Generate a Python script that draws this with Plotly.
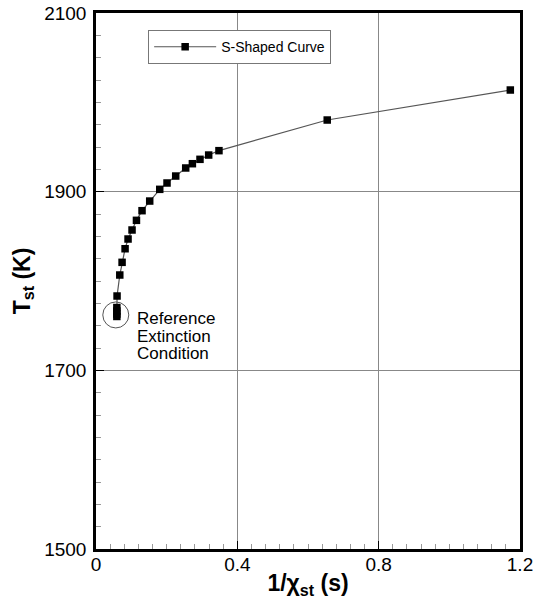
import plotly.graph_objects as go

# Data
inv_chi = [0.0590, 0.0590, 0.0590, 0.0590, 0.0596, 0.0673, 0.0738, 0.0823, 0.0907,
           0.1020, 0.1145, 0.1303, 0.1520, 0.1804, 0.2010, 0.2256, 0.2539,
           0.2728, 0.2943, 0.3189, 0.3480, 0.6544, 1.1726]
t_st = [1760.3, 1763.0, 1766.4, 1770.3, 1783.2, 1806.7, 1820.9, 1836.1, 1847.0,
        1857.1, 1867.9, 1878.7, 1889.5, 1902.6, 1909.7, 1917.5, 1926.5,
        1931.3, 1936.2, 1941.0, 1945.9, 1980.2, 2013.8]

x_ticks = [0, 0.4, 0.8, 1.2]
x_ticklabels = ["0", "0.4", "0.8", "1.2"]
y_ticks = [1500, 1700, 1900, 2100]
y_ticklabels = ["1500", "1700", "1900", "2100"]

extinction_x = 0.056
extinction_y = 1762.0
note_lines = ["Reference", "Extinction", "Condition"]
note_y = [1757.5, 1737.9, 1718.3]
note_x = 0.111

FONT = "Liberation Sans, Arial, Helvetica, sans-serif"

fig = go.Figure()
fig.add_trace(go.Scatter(
    x=inv_chi, y=t_st, mode="lines+markers", name="S-Shaped Curve",
    line=dict(color="#555555", width=1.2),
    marker=dict(symbol="square", size=7.5, color="black"),
))

for txt, yy in zip(note_lines, note_y):
    fig.add_annotation(x=note_x, y=yy, xref="x", yref="y", text=txt,
                       showarrow=False, xanchor="left", yanchor="middle",
                       font=dict(family=FONT, size=17, color="black"))

fig.add_shape(type="circle", xref="x", yref="y",
              xsizemode="pixel", ysizemode="pixel",
              xanchor=extinction_x, yanchor=extinction_y,
              x0=-13, x1=13, y0=-13, y1=13,
              line=dict(color="#555555", width=1))

axis_common = dict(
    showline=True, linecolor="black", linewidth=2.5, mirror=True,
    showgrid=True, gridcolor="#888888", gridwidth=1,
    ticks="inside", ticklen=8, tickcolor="black", tickwidth=1,
    zeroline=False, automargin=False,
    tickfont=dict(family=FONT, size=19, color="black"),
)

fig.update_xaxes(range=[0, 1.2], tickvals=x_ticks, ticktext=x_ticklabels,
                 minor=dict(dtick=0.04, ticks="inside", ticklen=5,
                            tickcolor="#999999", showgrid=False),
                 ticklabelstandoff=-4,
                 title=dict(text="<b>1/χ<sub>st</sub> (s)</b>",
                            font=dict(family=FONT, size=23, color="black"),
                            standoff=2),
                 **axis_common)
fig.update_yaxes(range=[1500, 2100], tickvals=y_ticks, ticktext=y_ticklabels,
                 minor=dict(dtick=25, ticks="inside", ticklen=5,
                            tickcolor="#999999", showgrid=False),
                 ticklabelstandoff=3,
                 title=dict(text="<b>T<sub>st</sub> (K)</b>",
                            font=dict(family=FONT, size=23, color="black"),
                            standoff=8),
                 **axis_common)

fig.update_layout(
    width=535, height=602,
    margin=dict(l=96, r=15, t=13, b=53),
    paper_bgcolor="white", plot_bgcolor="white",
    showlegend=True,
    legend=dict(x=0.123, y=0.968, xanchor="left", yanchor="top",
                bgcolor="white", bordercolor="#777777", borderwidth=1,
                font=dict(family=FONT, size=14, color="black"),
                itemwidth=62, tracegroupgap=0),
    font=dict(family=FONT),
)

fig.write_html("out.html")
